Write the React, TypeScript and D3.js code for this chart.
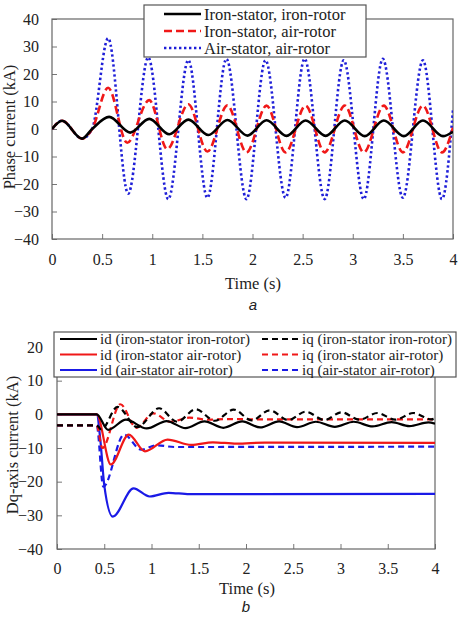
import React, { useEffect, useRef } from 'react';
import * as d3 from 'd3';

type Pt = [number, number];

// Panel a: phase current (kA) vs time (s), peaks and troughs of each trace
const phaseStart: Pt[] = [[0, 0], [0.1, 3], [0.3, -3.5], [0.4, 0]];
const ironIronPhase: Pt[] = [
  [0.57, 4.4], [0.78, -1.3], [0.97, 3.7], [1.17, -1.9], [1.36, 3.4], [1.56, -2.2],
  [1.75, 3.3], [1.95, -2.4], [2.14, 3.2], [2.34, -2.5], [2.53, 3.1], [2.73, -2.5],
  [2.92, 3.1], [3.12, -2.6], [3.31, 3.1], [3.51, -2.6], [3.7, 3.1], [3.9, -2.6], [4.0, -1.0],
];
const ironAirPhase: Pt[] = [
  [0.56, 15], [0.75, -5], [0.97, 10.5], [1.15, -7.3], [1.36, 9], [1.55, -8.2],
  [1.75, 8.6], [1.94, -8.5], [2.14, 8.5], [2.33, -8.5], [2.53, 8.5], [2.72, -8.5],
  [2.92, 8.5], [3.11, -8.5], [3.31, 8.5], [3.5, -8.5], [3.7, 8.5], [3.89, -8.5], [4.0, 0.5],
];
const airAirPhase: Pt[] = [
  [0.56, 33], [0.76, -23.5], [0.96, 26], [1.16, -25.5], [1.36, 25], [1.55, -25],
  [1.74, 25.5], [1.94, -25.5], [2.13, 25], [2.33, -25], [2.52, 25.5], [2.72, -25.5],
  [2.91, 25], [3.11, -25.5], [3.3, 25.5], [3.5, -25], [3.7, 25], [3.89, -25.5], [4.0, 7],
];
const phaseLabels = ['Iron-stator, iron-rotor', 'Iron-stator, air-rotor', 'Air-stator, air-rotor'];

// Panel b: dq-axis currents (kA)
const idIronIron: Pt[] = [
  [0, 0], [0.42, 0], [0.54, -4.6], [0.73, -1.6], [0.95, -4.2], [1.16, -2], [1.36, -4.1],
  [1.56, -2.1], [1.76, -4], [1.96, -2.1], [2.15, -3.9], [2.35, -2.1], [2.54, -3.8],
  [2.74, -2.2], [2.94, -3.7], [3.14, -2.2], [3.34, -3.6], [3.54, -2.3], [3.73, -3.5],
  [3.93, -2.4], [4, -2.8],
];
const iqIronIron: Pt[] = [
  [0, -3.3], [0.42, -3.3], [0.47, -4.5], [0.64, 2.2], [0.85, -3.8], [1.08, 1.8],
  [1.27, -2.2], [1.47, 1.5], [1.67, -1.9], [1.87, 1.4], [2.06, -1.8], [2.25, 1.2],
  [2.45, -1.7], [2.63, 0.8], [2.83, -1.7], [3.01, 0.6], [3.2, -1.6], [3.39, 0.4],
  [3.58, -1.6], [3.77, 0.4], [3.96, -1.5], [4, -1.2],
];
const idIronAir: Pt[] = [
  [0, 0], [0.42, 0], [0.57, -14.9], [0.76, -6], [0.93, -11], [1.17, -7.5], [1.42, -9.1],
  [1.65, -8.3], [1.9, -8.7], [2.2, -8.4], [4, -8.5],
];
const iqIronAir: Pt[] = [
  [0, -3.3], [0.42, -3.3], [0.48, -10], [0.67, 3], [0.84, -4], [1.02, 0.3], [1.2, -2.2],
  [1.4, -1.0], [1.6, -1.6], [1.8, -1.4], [2.2, -1.5], [4, -1.5],
];
const idAirAir: Pt[] = [
  [0, 0], [0.42, 0], [0.46, -8], [0.5, -21], [0.59, -30.4], [0.81, -22], [0.98, -24.4],
  [1.18, -23.3], [1.4, -23.7], [4, -23.6],
];
const iqAirAir: Pt[] = [
  [0, -3.3], [0.42, -3.3], [0.49, -21.5], [0.71, -6], [0.89, -10.5], [1.05, -9.2],
  [1.25, -9.7], [4, -9.6],
];
const dqLabels = [
  'id (iron-stator iron-rotor)', 'iq (iron-stator iron-rotor)',
  'id (iron-stator air-rotor)', 'iq (iron-stator air-rotor)',
  'id (air-stator air-rotor)', 'iq (air-stator air-rotor)',
];

const timeTicks = [0, 0.5, 1, 1.5, 2, 2.5, 3, 3.5, 4];
const phaseTicks = [-40, -30, -20, -10, 0, 10, 20, 30, 40];
const dqTicks = [-40, -30, -20, -10, 0, 10, 20];

const FONT = 'Liberation Serif, Times New Roman, serif';
const SANS = 'Liberation Sans, Arial, sans-serif';

export default function App() {
  const svgRef = useRef<SVGSVGElement>(null);

  useEffect(() => {
    const svg = d3.select(svgRef.current);
    svg.selectAll('*').remove();

    const serif = (t: any, size: number) =>
      t.style('font-family', FONT).style('font-size', `${size}px`).attr('fill', '#222');

    const drawAxes = (
      g: any, x: any, y: any, yTicks: number[], xPad: number, yPad: number, id: string
    ) => {
      const [x0, x1] = x.range();
      const [y0, y1] = y.range();
      g.append('g')
        .attr('transform', `translate(0,${y0})`)
        .call(d3.axisBottom(x).tickValues(timeTicks).tickFormat((d: any) => String(d)).tickSizeInner(-5).tickSizeOuter(0).tickPadding(xPad))
        .call((a: any) => a.select('.domain').remove())
        .call((a: any) => a.selectAll('line').attr('stroke', '#777'))
        .call((a: any) => serif(a.selectAll('text'), 16));
      g.append('g')
        .attr('transform', `translate(${x0},0)`)
        .call(d3.axisLeft(y).tickValues(yTicks).tickSizeInner(-5).tickSizeOuter(0).tickPadding(yPad))
        .call((a: any) => a.select('.domain').remove())
        .call((a: any) => a.selectAll('line').attr('stroke', '#777'))
        .call((a: any) => serif(a.selectAll('text'), 16));
      g.append('rect')
        .attr('x', x0).attr('y', y1).attr('width', x1 - x0).attr('height', y0 - y1)
        .attr('fill', 'none').attr('stroke', '#666').attr('stroke-width', 1.2);
      g.append('clipPath').attr('id', id)
        .append('rect').attr('x', x0).attr('y', y1).attr('width', x1 - x0).attr('height', y0 - y1);
    };

    // ---- panel a ----
    const xa = d3.scaleLinear().domain([0, 4]).range([52, 453]);
    const ya = d3.scaleLinear().domain([-40, 40]).range([239, 19]);
    const ga = svg.append('g');
    drawAxes(ga, xa, ya, phaseTicks, 15, 13, 'clip-a');

    const lineA = d3.line<Pt>().x((d) => xa(d[0])).y((d) => ya(d[1])).curve(d3.curveMonotoneX);
    const phaseSeries = [
      { data: [...phaseStart, ...airAirPhase], color: '#1f1fd8', dash: '2.4,2.6', w: 2.6 },
      { data: [...phaseStart, ...ironAirPhase], color: '#f01818', dash: '8,4', w: 2.6 },
      { data: [...phaseStart, ...ironIronPhase], color: '#000', dash: null, w: 2.6 },
    ];
    phaseSeries.forEach((s) => {
      ga.append('path')
        .attr('clip-path', 'url(#clip-a)')
        .attr('d', lineA(s.data))
        .attr('fill', 'none')
        .attr('stroke', s.color)
        .attr('stroke-width', s.w)
        .attr('stroke-dasharray', s.dash);
    });

    // legend a
    const la = ga.append('g');
    la.append('rect').attr('x', 144).attr('y', 5).attr('width', 222).attr('height', 52)
      .attr('fill', '#fff').attr('stroke', '#555').attr('stroke-width', 1.2);
    const legendStyleA = [phaseSeries[2], phaseSeries[1], phaseSeries[0]];
    phaseLabels.forEach((label, i) => {
      const cy = 14 + i * 17;
      const s = legendStyleA[i];
      la.append('line').attr('x1', 164).attr('x2', 201).attr('y1', cy).attr('y2', cy)
        .attr('stroke', s.color).attr('stroke-width', s.w).attr('stroke-dasharray', s.dash);
      serif(la.append('text').attr('x', 204).attr('y', cy + 5.5).text(label), 16.5);
    });

    serif(ga.append('text').attr('x', 253).attr('y', 289).attr('text-anchor', 'middle').text('Time (s)'), 16.5);
    serif(ga.append('text').attr('transform', 'translate(15,127) rotate(-90)').attr('text-anchor', 'middle')
      .text('Phase current (kA)'), 16.5);
    ga.append('text').attr('x', 253).attr('y', 310).attr('text-anchor', 'middle')
      .style('font-size', '15px').style('font-style', 'italic').style('font-family', SANS)
      .attr('fill', '#222').text('a');

    // ---- panel b ----
    const xb = d3.scaleLinear().domain([0, 4]).range([57, 435]);
    const yb = d3.scaleLinear().domain([-40, 20]).range([549, 347]);
    const gb = svg.append('g');
    drawAxes(gb, xb, yb, dqTicks, 13.5, 14, 'clip-b');

    const lineB = d3.line<Pt>().x((d) => xb(d[0])).y((d) => yb(d[1])).curve(d3.curveMonotoneX);
    const dqSeries = [
      { data: idIronIron, color: '#000', dash: null },
      { data: iqIronIron, color: '#000', dash: '6,4' },
      { data: idIronAir, color: '#f01818', dash: null },
      { data: iqIronAir, color: '#f01818', dash: '6,4' },
      { data: idAirAir, color: '#1a1ae6', dash: null },
      { data: iqAirAir, color: '#1a1ae6', dash: '6,4' },
    ];
    const drawOrder = [4, 5, 2, 3, 0, 1];
    drawOrder.forEach((i) => {
      const s = dqSeries[i];
      gb.append('path')
        .attr('clip-path', 'url(#clip-b)')
        .attr('d', lineB(s.data))
        .attr('fill', 'none')
        .attr('stroke', s.color)
        .attr('stroke-width', 2.2)
        .attr('stroke-dasharray', s.dash);
    });

    // legend b, two columns
    const lb = gb.append('g');
    lb.append('rect').attr('x', 54).attr('y', 332).attr('width', 402).attr('height', 45)
      .attr('fill', '#fff').attr('stroke', '#555').attr('stroke-width', 1.2);
    dqLabels.forEach((label, i) => {
      const col = i % 2;
      const row = Math.floor(i / 2);
      const cy = 339 + row * 15.5;
      const lx = col === 0 ? 60 : 262;
      const s = dqSeries[i];
      lb.append('line').attr('x1', lx).attr('x2', lx + 37).attr('y1', cy).attr('y2', cy)
        .attr('stroke', s.color).attr('stroke-width', 2.2).attr('stroke-dasharray', s.dash);
      serif(lb.append('text').attr('x', lx + 40).attr('y', cy + 5).text(label), 15);
    });

    serif(gb.append('text').attr('x', 247).attr('y', 594).attr('text-anchor', 'middle').text('Time (s)'), 16.5);
    serif(gb.append('text').attr('transform', 'translate(18,445) rotate(-90)').attr('text-anchor', 'middle')
      .text('Dq-axis current (kA)'), 16.5);
    gb.append('text').attr('x', 246).attr('y', 612).attr('text-anchor', 'middle')
      .style('font-size', '15px').style('font-style', 'italic').style('font-family', SANS)
      .attr('fill', '#222').text('b');
  }, []);

  return (
    <svg
      ref={svgRef}
      width={461}
      height={617}
      style={{ position: 'absolute', left: 0, top: 0, background: '#fff' }}
    />
  );
}
